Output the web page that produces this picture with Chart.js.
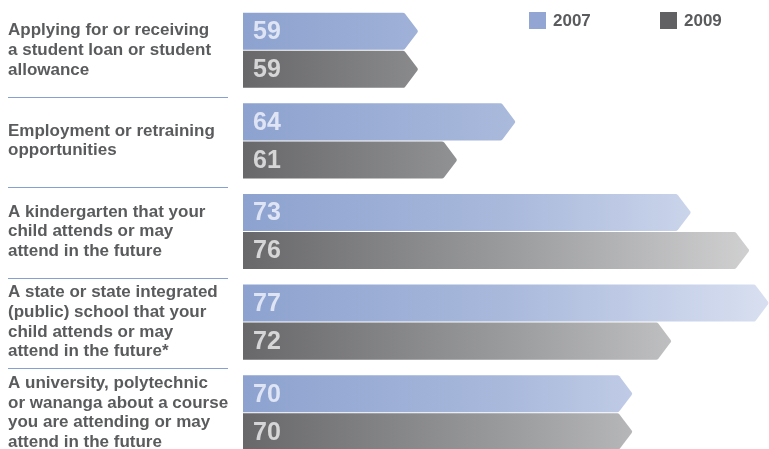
<!DOCTYPE html>
<html>
<head>
<meta charset="utf-8">
<script src="https://cdn.jsdelivr.net/npm/chart.js@4.4.1/dist/chart.umd.min.js"></script>
<style>
  html, body { margin: 0; padding: 0; overflow: hidden; background: #fff; }
  #wrap { position: relative; width: 769px; height: 458px; }
</style>
</head>
<body>
<div id="wrap"><canvas id="myChart"></canvas></div>
<script>
// 항목 (왼쪽 라벨)
var categories = [
  ['Applying for or receiving', 'a student loan or student', 'allowance'],
  ['Employment or retraining', 'opportunities'],
  ['A kindergarten that your', 'child attends or may', 'attend in the future'],
  ['A state or state integrated', '(public) school that your', 'child attends or may', 'attend in the future*'],
  ['A university, polytechnic', 'or wananga about a course', 'you are attending or may', 'attend in the future']
];
var years = ['2007', '2009'];
var values2007 = [59, 64, 73, 77, 70];
var values2009 = [59, 61, 76, 72, 70];
var axisMin = 50;
var axisMax = 77;

var textColor = '#5a5b5d';
var fontFamily = '"Liberation Sans", Arial, Helvetica, sans-serif';

// 막대 그라데이션 (차트 영역 왼쪽 -> 오른쪽)
function barGradient(chart, stops) {
  var area = chart.chartArea;
  if (!area) return stops[0][1];
  var g = chart.ctx.createLinearGradient(area.left, 0, area.right, 0);
  stops.forEach(function (s) { g.addColorStop(s[0], s[1]); });
  return g;
}
var blueStops = [[0, '#8da2cf'], [0.5, '#a9b9dc'], [1, '#d8dff0']];
var greyStops = [[0, '#68686a'], [0.5, '#9a9b9d'], [1, '#d4d4d5']];

// 화살표 모양 막대 그리기
function arrowPath(ctx, left, tip, top, bottom) {
  var mid = (top + bottom) / 2;
  var shoulder = tip - 14;
  ctx.beginPath();
  ctx.moveTo(left, top);
  ctx.arcTo(shoulder, top, tip, mid, 3);
  ctx.arcTo(tip, mid, shoulder, bottom, 2);
  ctx.arcTo(shoulder, bottom, left, bottom, 3);
  ctx.lineTo(left, bottom);
  ctx.closePath();
}

var arrowBars = {
  id: 'arrowBars',
  beforeDatasetDraw: function (chart, args) {
    var ctx = chart.ctx;
    var meta = args.meta;
    ctx.save();
    meta.data.forEach(function (el) {
      var p = el.getProps(['x', 'y', 'base', 'height'], true);
      arrowPath(ctx, p.base, p.x, p.y - p.height / 2 + 0.5, p.y + p.height / 2 - 0.5);
      ctx.fillStyle = el.options.backgroundColor;
      ctx.fill();
    });
    ctx.restore();
    return false; // 기본 사각형 막대는 그리지 않음
  },
  afterDatasetsDraw: function (chart) {
    var ctx = chart.ctx;
    ctx.save();
    ctx.font = 'bold 25px ' + fontFamily;
    ctx.textAlign = 'left';
    ctx.textBaseline = 'middle';
    chart.data.datasets.forEach(function (ds, i) {
      var meta = chart.getDatasetMeta(i);
      ctx.fillStyle = i === 0 ? 'rgba(236,240,250,0.85)' : 'rgba(225,225,226,0.9)';
      meta.data.forEach(function (el, j) {
        ctx.fillText(ds.data[j], el.base + 10, el.y + 1);
      });
    });
    ctx.restore();
  }
};

// 항목 사이 구분선 + 범례
var extras = {
  id: 'extras',
  afterDraw: function (chart) {
    var ctx = chart.ctx;
    var y = chart.scales.y;
    ctx.save();
    ctx.strokeStyle = '#87a0d2';
    ctx.lineWidth = 1;
    for (var i = 0; i < categories.length - 1; i++) {
      var py = Math.round((y.getPixelForTick(i) + y.getPixelForTick(i + 1)) / 2) + 1.5;
      ctx.beginPath();
      ctx.moveTo(8, py);
      ctx.lineTo(228, py);
      ctx.stroke();
    }
    // 범례
    ctx.font = 'bold 17px ' + fontFamily;
    ctx.textBaseline = 'middle';
    var lx = chart.width - 240;
    chart.data.datasets.forEach(function (ds, i) {
      var x = lx + i * 131;
      ctx.fillStyle = ds.legendColor;
      ctx.fillRect(x, 12, 17, 17);
      ctx.fillStyle = textColor;
      ctx.fillText(ds.label, x + 24, 21);
    });
    ctx.restore();
  }
};

const myCt = document.getElementById('myChart');

new Chart(myCt, {
  type: 'bar',
  data: {
    labels: categories,
    datasets: [
      {
        label: years[0],
        data: values2007,
        legendColor: '#93a6d3',
        backgroundColor: function (c) { return barGradient(c.chart, blueStops); }
      },
      {
        label: years[1],
        data: values2009,
        legendColor: '#616163',
        backgroundColor: function (c) { return barGradient(c.chart, greyStops); }
      }
    ]
  },
  options: {
    indexAxis: 'y',
    responsive: true,
    maintainAspectRatio: false,
    animation: false,
    layout: { padding: { left: 8, top: 5, right: 0, bottom: 0 } },
    datasets: {
      bar: { barPercentage: 1, categoryPercentage: 0.84, base: axisMin }
    },
    plugins: {
      legend: { display: false },
      tooltip: { enabled: false }
    },
    scales: {
      x: {
        display: false,
        min: axisMin,
        max: axisMax
      },
      y: {
        grid: { display: false, drawTicks: false },
        border: { display: false },
        afterFit: function (scale) {
          scale.width = 235;
          // 여러 줄 라벨 때문에 위아래 여백이 생기지 않게
          scale.paddingTop = 0;
          scale.paddingBottom = 0;
        },
        ticks: {
          autoSkip: false,
          crossAlign: 'far',
          color: textColor,
          font: { family: fontFamily, size: 17, weight: 'bold', lineHeight: 1.15 }
        }
      }
    }
  },
  plugins: [arrowBars, extras]
});
</script>
</body>
</html>
